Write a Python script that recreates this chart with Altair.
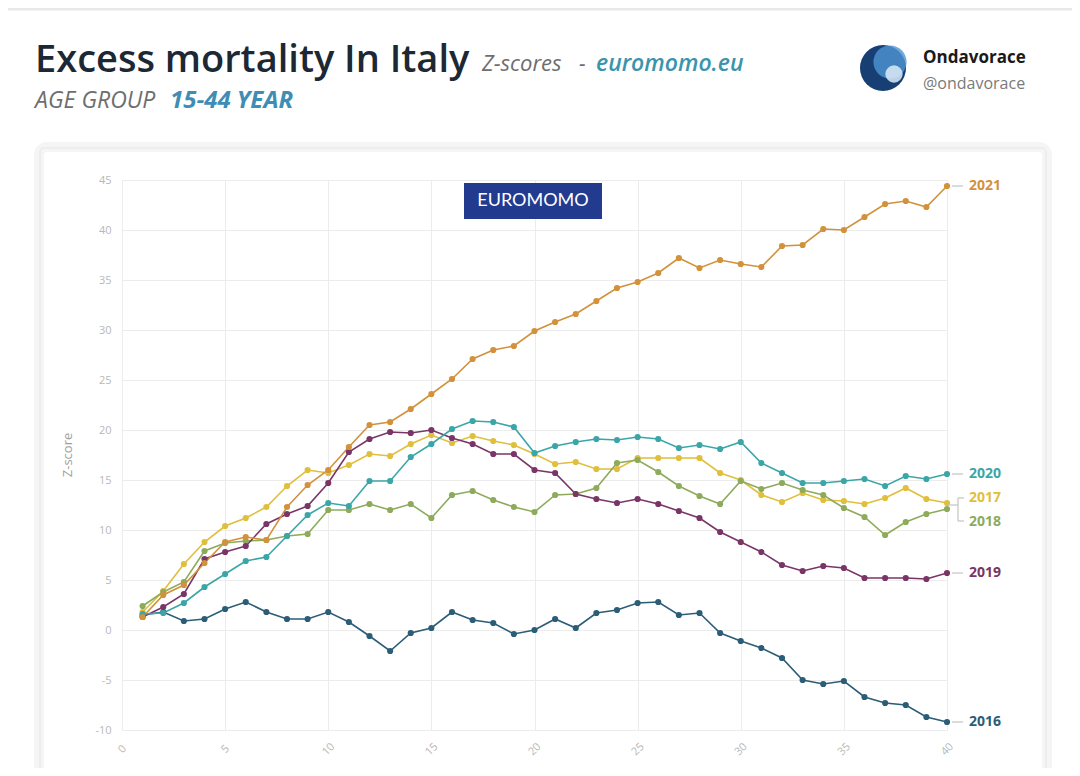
import altair as alt
import pandas as pd

weeks = list(range(1, 41))
years = ["2016", "2017", "2018", "2019", "2020", "2021"]
colors = ["#2c5d77", "#dfbf3c", "#8dab5b", "#7a3567", "#3ba6a8", "#d2913a"]

z2016 = [1.5, 1.8, 0.9, 1.1, 2.1, 2.8, 1.8, 1.1, 1.1, 1.8, 0.8, -0.6, -2.1, -0.3, 0.2, 1.8, 1.0, 0.7, -0.4, 0.0,
         1.1, 0.2, 1.7, 2.0, 2.7, 2.8, 1.5, 1.7, -0.3, -1.1, -1.8, -2.8, -5.0, -5.4, -5.1, -6.7, -7.3, -7.5, -8.7, -9.2]
z2017 = [1.8, 3.9, 6.6, 8.8, 10.4, 11.2, 12.3, 14.4, 16.0, 15.7, 16.5, 17.6, 17.4, 18.6, 19.5, 18.7, 19.4, 18.9, 18.5, 17.6,
         16.6, 16.8, 16.1, 16.1, 17.2, 17.2, 17.2, 17.2, 15.7, 15.0, 13.5, 12.8, 13.7, 13.0, 12.9, 12.6, 13.2, 14.2, 13.1, 12.7]
z2018 = [2.4, 3.8, 4.8, 7.9, 8.7, 8.9, 9.0, 9.4, 9.6, 12.0, 12.0, 12.6, 12.0, 12.6, 11.2, 13.5, 13.9, 13.0, 12.3, 11.8,
         13.5, 13.6, 14.2, 16.7, 17.0, 15.8, 14.4, 13.4, 12.6, 14.9, 14.1, 14.7, 14.0, 13.5, 12.2, 11.3, 9.5, 10.8, 11.6, 12.1]
z2019 = [1.3, 2.3, 3.6, 7.1, 7.8, 8.4, 10.6, 11.6, 12.4, 14.7, 17.8, 19.1, 19.8, 19.7, 20.0, 19.2, 18.6, 17.6, 17.6, 16.0,
         15.7, 13.6, 13.1, 12.7, 13.1, 12.6, 11.9, 11.2, 9.8, 8.8, 7.8, 6.5, 5.9, 6.4, 6.2, 5.2, 5.2, 5.2, 5.1, 5.7]
z2020 = [1.6, 1.7, 2.7, 4.3, 5.6, 6.9, 7.3, 9.4, 11.5, 12.7, 12.4, 14.9, 14.9, 17.3, 18.6, 20.1, 20.9, 20.8, 20.3, 17.7,
         18.4, 18.8, 19.1, 19.0, 19.3, 19.1, 18.2, 18.5, 18.1, 18.8, 16.7, 15.7, 14.7, 14.7, 14.9, 15.1, 14.4, 15.4, 15.1, 15.6]
z2021 = [1.3, 3.5, 4.5, 6.7, 8.8, 9.3, 9.0, 12.3, 14.5, 16.0, 18.3, 20.5, 20.8, 22.1, 23.6, 25.1, 27.1, 28.0, 28.4, 29.9,
         30.8, 31.6, 32.9, 34.2, 34.8, 35.7, 37.2, 36.2, 37.0, 36.6, 36.3, 38.4, 38.5, 40.1, 40.0, 41.3, 42.6, 42.9, 42.3, 44.4]

x_ticks = [0, 5, 10, 15, 20, 25, 30, 35, 40]
y_ticks = [-10, -5, 0, 5, 10, 15, 20, 25, 30, 35, 40, 45]

series = {"2016": z2016, "2017": z2017, "2018": z2018, "2019": z2019, "2020": z2020, "2021": z2021}
df = pd.DataFrame([{"week": w, "year": y, "z": v} for y in years for w, v in zip(weeks, series[y])])
last = pd.DataFrame({"year": years, "z": [series[y][-1] for y in years]})
one = pd.DataFrame({"a": [0]})

color = alt.Color("year:N", scale=alt.Scale(domain=years, range=colors), legend=None)
xenc = alt.X("week:Q", scale=alt.Scale(domain=[0, 40], nice=False, zero=False),
             axis=alt.Axis(values=x_ticks, title=None, labelAngle=315, labelAlign="center",
                           labelBaseline="middle", labelPadding=19, labelColor="#b8b8b8",
                           labelFontSize=11, ticks=False, domain=False, gridColor="#ececec",
                           labelExpr="'' + datum.value"))
yenc = alt.Y("z:Q", scale=alt.Scale(domain=[-10, 45], nice=False, zero=False),
             axis=alt.Axis(values=y_ticks, title=None, labelColor="#b8b8b8", labelFontSize=11,
                           labelPadding=11, ticks=False, domain=False, gridColor="#ececec",
                           labelExpr="'' + datum.value"))

lines = alt.Chart(df).mark_line(strokeWidth=1.6).encode(x=xenc, y=yenc, color=color, detail="year:N")
points = alt.Chart(df).mark_circle(size=38, opacity=1).encode(x="week:Q", y="z:Q", color=color)

main_last = last[~last.year.isin(["2017", "2018"])]
dash = alt.Chart(main_last).mark_rule(color="#c4c4c4", strokeWidth=1.2).encode(
    x=alt.value(830), x2=alt.value(841), y="z:Q")
lbl = alt.Chart(main_last).mark_text(align="left", baseline="middle", fontSize=14, fontWeight="bold",
                                     font="Open Sans").encode(
    x=alt.value(847), y="z:Q", text="year:N", color=color)
lbl17 = alt.Chart(last[last.year == "2017"]).mark_text(align="left", baseline="middle", fontSize=14,
                                                        fontWeight="bold", font="Open Sans", dy=-5).encode(
    x=alt.value(847), y="z:Q", text="year:N", color=color)
lbl18 = alt.Chart(last[last.year == "2018"]).mark_text(align="left", baseline="middle", fontSize=14,
                                                        fontWeight="bold", font="Open Sans", dy=13).encode(
    x=alt.value(847), y="z:Q", text="year:N", color=color)
br_col = "#c4c4c4"
br1 = alt.Chart(one).mark_rule(color=br_col, strokeWidth=1.2).encode(x=alt.value(826), x2=alt.value(836), y=alt.value(325))
br2 = alt.Chart(one).mark_rule(color=br_col, strokeWidth=1.2).encode(x=alt.value(836), y=alt.value(318), y2=alt.value(341))
br3 = alt.Chart(one).mark_rule(color=br_col, strokeWidth=1.2).encode(x=alt.value(836), x2=alt.value(842), y=alt.value(318))
br4 = alt.Chart(one).mark_rule(color=br_col, strokeWidth=1.2).encode(x=alt.value(836), x2=alt.value(842), y=alt.value(341))

# card frame (soft shadow-like border), no fill
card_o = alt.Chart(one).mark_rect(fillOpacity=0, stroke="#f5f5f5", strokeWidth=10, cornerRadius=8).encode(
    x=alt.value(-83), x2=alt.value(925), y=alt.value(-33), y2=alt.value(640))
card_i = alt.Chart(one).mark_rect(fillOpacity=0, stroke="#e8e8e8", strokeWidth=1.2, cornerRadius=4).encode(
    x=alt.value(-82), x2=alt.value(924), y=alt.value(-32), y2=alt.value(640))
topline = alt.Chart(one).mark_rule(color="#e8e8e8", strokeWidth=3).encode(
    x=alt.value(-130), x2=alt.value(960), y=alt.value(-171))

# EUROMOMO box
ebox = alt.Chart(one).mark_rect(color="#223b8f").encode(
    x=alt.value(342), x2=alt.value(480), y=alt.value(3), y2=alt.value(39))
etxt = alt.Chart(one).mark_text(text="EUROMOMO", color="white", fontSize=18, font="Lato",
                                 align="center", baseline="middle").encode(
    x=alt.value(411), y=alt.value(21))

ytitle = alt.Chart(one).mark_text(text="Z-score", color="#a0a0a0", fontSize=13, font="Open Sans",
                                   angle=270, align="center", baseline="middle").encode(
    x=alt.value(-54), y=alt.value(275))


def txt(s, x, y, size, col, weight="normal", style="normal", font="Open Sans"):
    return alt.Chart(one).mark_text(text=s, color=col, fontSize=size, fontWeight=weight, fontStyle=style,
                                    font=font, align="left", baseline="alphabetic").encode(
        x=alt.value(x), y=alt.value(y))


h1 = txt("Excess mortality In Italy", -87, -108, 38, "#1c2833", weight=600)
h2 = txt("Z-scores", 360, -109, 22, "#6e6e6e", style="italic")
h2b = txt("-", 457, -109, 21, "#6e6e6e", style="italic")
h3 = txt("euromomo.eu", 474, -109, 23, "#3a94ac", weight=600, style="italic")
h4 = txt("AGE GROUP", -87, -72, 23, "#6e6e6e", style="italic")
h5 = txt("15-44 YEAR", 48, -72, 24, "#3d8db6", weight="bold", style="italic")
h6 = txt("Ondavorace", 801, -117, 17, "#1a1a1a", weight="bold")
h7 = txt("@ondavorace", 801, -91, 16, "#7a7a7a")

logo1 = alt.Chart(one).mark_circle(size=2120, color="#173f73", opacity=1).encode(x=alt.value(761), y=alt.value(-112))
logo2 = alt.Chart(one).mark_circle(size=1100, color="#4f95d3", opacity=0.8).encode(x=alt.value(768), y=alt.value(-118))
logo3 = alt.Chart(one).mark_circle(size=300, color="#dcebf8", opacity=0.85).encode(x=alt.value(772), y=alt.value(-106))

chart = alt.layer(
    card_o, card_i, topline, ebox, etxt, ytitle,
    lines, points, dash, lbl, lbl17, lbl18, br1, br2, br3, br4,
    h1, h2, h2b, h3, h4, h5, h6, h7, logo1, logo2, logo3,
).properties(
    width=825, height=550,
    autosize=alt.AutoSizeParams(type="none"),
    padding={"left": 114, "top": 172, "right": 125, "bottom": 38},
    background="white",
).configure_view(strokeWidth=0).configure_axis(labelFont="Open Sans")

chart.save("out.html", embed_options={"renderer": "svg", "actions": False})
